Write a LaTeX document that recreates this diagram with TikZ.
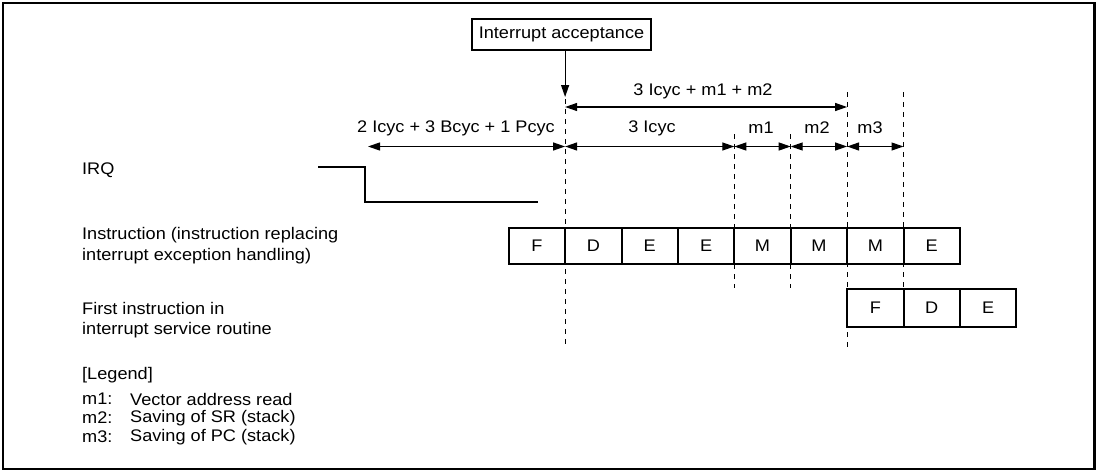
\documentclass[tikz,border=0pt]{standalone}
\usepackage{fontspec}
\setmainfont{Liberation Sans}[FakeStretch=1.08]
\usetikzlibrary{arrows.meta}
\begin{document}
\begin{tikzpicture}[x=1pt,y=-1pt,
  every node/.style={font=\fontsize{16.8}{20}\selectfont, inner sep=0pt},
  frame/.style={line width=2.5pt},
  cell/.style={draw, line width=2pt, minimum width=56.4pt, anchor=center},
  dline/.style={line width=1.2pt, dash pattern=on 5pt off 5pt},
  arr/.style={line width=1.2pt, -{Triangle[length=12pt,width=8pt]}},
  darr/.style={line width=1.2pt, {Triangle[length=12pt,width=8pt]}-{Triangle[length=12pt,width=8pt]}},
  wave/.style={line width=2pt},
  lbl/.style={anchor=west}
]
\useasboundingbox (0,0) rectangle (1100,471);
\draw[frame] (3,3) rectangle (1094.5,469);

\def\xa{508.7}
\def\cw{56.4}

% interrupt acceptance
\node[draw, line width=2pt, minimum width=179pt, minimum height=31pt] (ia) at (561.5,34.5) {Interrupt acceptance};
\coordinate (iatip) at (565.1,97);
\draw[arr] (ia.south -| iatip) -- (iatip);

% dashed vertical lines
\draw[dline] (565.1,99) -- (565.1,348);
\draw[dline] (734.3,134) -- (734.3,288);
\draw[dline] (790.7,134) -- (790.7,288);
\draw[dline] (847.1,92) -- (847.1,348);
\draw[dline] (903.5,92) -- (903.5,289);

% big arrow
\coordinate (ba) at (565.1,107);
\coordinate (bb) at (847.1,107);
\draw[darr] (ba) -- (bb);
\node (lbig) at (703,91) {3 Icyc + m1 + m2};

% row of arrows
\coordinate (a0) at (368,146.5);
\coordinate (a1) at (565.1,146.5);
\coordinate (a2) at (734.3,146.5);
\coordinate (a3) at (790.7,146.5);
\coordinate (a4) at (847.1,146.5);
\coordinate (a5) at (903.5,146.5);
\draw[darr] (a0) -- (a1);
\draw[darr] (a1) -- (a2);
\draw[darr] (a2) -- (a3);
\draw[darr] (a3) -- (a4);
\draw[darr] (a4) -- (a5);
\node[anchor=east] (l0) at (555,128) {2 Icyc + 3 Bcyc + 1 Pcyc};
\node (l1) at (652,128) {3 Icyc};
\node (l2) at (761,128) {m1};
\node (l3) at (817,128) {m2};
\node (l4) at (870,128) {m3};

% IRQ waveform
\draw[wave] (318,167.3) -- (365,167.3) -- (365,202.3) -- (538,202.3);

% row labels
\node[lbl] (irq) at (82,170) {IRQ};
\node[lbl] (in1) at (82,235) {Instruction (instruction replacing};
\node[lbl] (in2) at (82,256) {interrupt exception handling)};
\node[lbl] (fi1) at (82,308) {First instruction in};
\node[lbl] (fi2) at (82,330) {interrupt service routine};

% instruction cells
\foreach \t [count=\k from 0] in {F,D,E,E,M,M,M,E} {
  \node[cell, minimum height=36pt] (c\k) at ({\xa+\cw*(\k+0.5)},246) {\t};
}
\foreach \t [count=\k from 0] in {F,D,E} {
  \node[cell, minimum height=38pt] (s\k) at ({\xa+\cw*(\k+6.5)},308) {\t};
}

% legend
\node[lbl] (lg) at (82,375) {[Legend]};
\node[lbl] (m1) at (82,399) {m1:};
\node[lbl] (m2) at (82,418) {m2:};
\node[lbl] (m3) at (82,437) {m3:};
\node[lbl] (d1) at (130,399) {Vector address read};
\node[lbl] (d2) at (130,418) {Saving of SR (stack)};
\node[lbl] (d3) at (130,437) {Saving of PC (stack)};
\end{tikzpicture}
\end{document}
